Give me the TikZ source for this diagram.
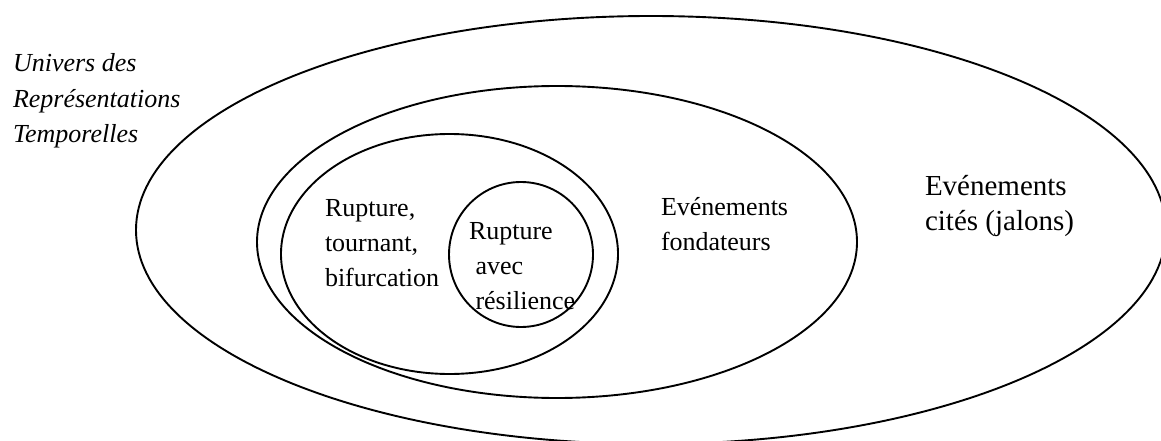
\documentclass[tikz,border=0pt]{standalone}
\usepackage{fontspec}
\setmainfont{Liberation Serif}
\usetikzlibrary{shapes.geometric}
\begin{document}
\begin{tikzpicture}[x=1pt,y=-1pt,
  ring/.style={draw,ellipse,line width=1.9pt,inner sep=0pt,outer sep=0pt},
  lbl/.style={inner sep=0pt,outer sep=0pt,anchor=base west},
  t26/.style={font=\fontsize{26}{35}\selectfont},
  t29/.style={font=\fontsize{29}{35}\selectfont}]
\useasboundingbox (0,0) rectangle (1161,441);
\clip (0,0) rectangle (1161,441);
\fill[white] (0,0) rectangle (1161,441);
% ellipses
\node[ring,minimum width=1030pt,minimum height=428pt] (univ) at (651,230) {};
\node[ring,minimum width=600pt,minimum height=312pt] (fond) at (557,242) {};
\node[ring,minimum width=337pt,minimum height=240pt] (rupt) at (449.5,254) {};
\node[ring,minimum width=144pt,minimum height=145pt] (resil) at (521,254.5) {};
% labels
\node[lbl,t26] (tunivers) at (13,72) {\itshape\begin{tabular}[t]{@{}l@{}}Univers des\\[0.5pt]Représentations\\[0.5pt]Temporelles\end{tabular}};
\node[lbl,t29] (tcites) at (925,195) {\begin{tabular}[t]{@{}l@{}}Evénements\\cités (jalons)\end{tabular}};
\node[lbl,t26] (tfond) at (661,215.7) {\begin{tabular}[t]{@{}l@{}}Evénements\\[-0.5pt]fondateurs\end{tabular}};
\node[lbl,t26] (trupt) at (325,216) {\begin{tabular}[t]{@{}l@{}}Rupture,\\tournant,\\bifurcation\end{tabular}};
\node[lbl,t26] (tresil) at (469,239) {\begin{tabular}[t]{@{}l@{}}Rupture\\[0.5pt]\hspace{6.5pt}avec\\\hspace{6.5pt}résilience\end{tabular}};
\end{tikzpicture}
\end{document}
